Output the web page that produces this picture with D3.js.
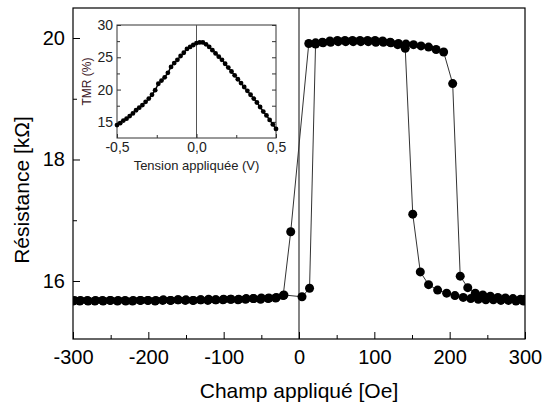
<!DOCTYPE html>
<html><head><meta charset="utf-8">
<script src="https://cdn.jsdelivr.net/npm/d3@7"></script>
<style>
html,body{margin:0;padding:0;background:#fff;}
svg{display:block;font-family:"Liberation Sans",Arial,sans-serif;}
</style></head>
<body>
<svg id="c" width="542" height="408"></svg>
<script>
// ---- Main chart data: sweep with increasing field ----
const upField = [-300,-290,-280,-270,-260,-250,-240,-230,-220,-210,-200,-190,-180,-170,-160,-150,-140,-130,-120,-110,-100,-90,-80,-70,-60,-50,-40,-30,-20,
  4,14,22,32,42,52,62,72,82,92,102,112,122,132,142,152,162,172,182,192,204,214,224,234,244,254,264,274,284,294,300];
const upRes = [15.67,15.68,15.67,15.68,15.67,15.68,15.68,15.67,15.68,15.68,15.68,15.68,15.69,15.68,15.69,15.69,15.68,15.69,15.70,15.69,15.70,15.70,15.70,15.71,15.71,15.72,15.72,15.73,15.77,
  15.74,15.88,19.90,19.92,19.93,19.94,19.94,19.94,19.94,19.94,19.93,19.93,19.92,19.91,19.90,19.89,19.87,19.85,19.81,19.77,19.25,16.08,15.89,15.80,15.77,15.75,15.73,15.72,15.71,15.70,15.70];
// ---- sweep with decreasing field ----
const downField = [298,288,278,268,258,248,238,228,218,207,196,184,172,161,151,141,131,121,111,101,91,81,71,61,51,41,31,22,13,
  -11,-21,-31,-41,-51,-61,-71,-81,-91,-101,-111,-121,-131,-141,-151,-161,-171,-181,-191,-201,-211,-221,-231,-241,-251,-261,-271,-281,-291,-298];
const downRes = [15.67,15.67,15.68,15.68,15.69,15.69,15.70,15.71,15.73,15.76,15.80,15.85,15.94,16.15,17.10,19.83,19.89,19.93,19.95,19.96,19.96,19.96,19.96,19.96,19.96,19.95,19.93,19.92,19.91,
  16.81,15.76,15.72,15.71,15.70,15.71,15.70,15.69,15.70,15.69,15.69,15.68,15.69,15.68,15.68,15.69,15.68,15.68,15.67,15.68,15.68,15.67,15.68,15.67,15.68,15.68,15.67,15.68,15.67,15.68];
const xTicks = [-300,-200,-100,0,100,200,300];
const xMinor = [-250,-150,-50,50,150,250];
const yTicks = [16,18,20];
const yMinor = [17,19];

// ---- Inset data ----
const insetV = [-0.50,-0.48,-0.46,-0.44,-0.42,-0.40,-0.38,-0.36,-0.34,-0.32,-0.30,-0.28,-0.26,-0.24,-0.22,-0.20,-0.18,-0.16,-0.14,-0.12,-0.10,-0.08,-0.06,-0.04,-0.02,
  0.00,0.02,0.04,0.06,0.08,0.10,0.12,0.14,0.16,0.18,0.20,0.22,0.24,0.26,0.28,0.30,0.32,0.34,0.36,0.38,0.40,0.42,0.44,0.46,0.48,0.50];
const insetTMR = [14.5,14.8,15.2,15.5,15.9,16.3,16.8,17.2,17.6,18.1,18.6,19.2,19.9,20.9,21.4,21.9,22.6,23.5,24.1,24.6,25.2,25.7,26.3,26.6,26.9,
  27.2,27.3,27.3,27.0,26.6,26.1,25.6,25.1,24.6,24.0,23.4,22.8,22.2,21.6,21.0,20.4,19.8,19.2,18.6,18.0,17.3,16.6,16.0,15.3,14.6,13.9];
const insetXTicks = [-0.5,0,0.5];
const insetXMinor = [-0.25,0.25];
const insetYTicks = [15,20,25,30];
const insetYMinor = [17.5,22.5,27.5];

const svg = d3.select("#c");
const FONT = "Liberation Sans, Arial, sans-serif";

// ---------- Main chart ----------
const x = d3.scaleLinear().domain([-300,300]).range([73,525]);
const y = d3.scaleLinear().domain([15.045,20.494]).range([339,8]);
const X0 = x.range()[0], X1 = x.range()[1], Y0 = y.range()[0], Y1 = y.range()[1];

svg.append("defs").append("clipPath").attr("id","plotclip")
  .append("rect").attr("x",X0).attr("y",Y1).attr("width",X1-X0).attr("height",Y0-Y1);

// zero line
svg.append("line").attr("x1",x(0)).attr("x2",x(0)).attr("y1",Y1).attr("y2",Y0)
  .attr("stroke","#333").attr("stroke-width",1.2);

// axes
const xAxis = d3.axisBottom(x).tickValues(xTicks).tickSizeInner(-7).tickSizeOuter(0).tickPadding(11).tickFormat(d=>String(d));
const gx = svg.append("g").attr("transform",`translate(0,${Y0})`).call(xAxis);
gx.select(".domain").remove();
gx.selectAll("text").attr("font-size",20).attr("font-family",FONT).attr("fill","#000");
gx.selectAll("line").attr("stroke","#000");
const gxm = svg.append("g").attr("transform",`translate(0,${Y0})`)
  .call(d3.axisBottom(x).tickValues(xMinor).tickSizeInner(-4).tickSizeOuter(0).tickFormat(""));
gxm.select(".domain").remove(); gxm.selectAll("line").attr("stroke","#000");

const yAxis = d3.axisLeft(y).tickValues(yTicks).tickSizeInner(-7).tickSizeOuter(0).tickPadding(8).tickFormat(d=>String(d));
const gy = svg.append("g").attr("transform",`translate(${X0},0)`).call(yAxis);
gy.select(".domain").remove();
gy.selectAll("text").attr("font-size",20).attr("font-family",FONT).attr("fill","#000");
gy.selectAll("line").attr("stroke","#000");
const gym = svg.append("g").attr("transform",`translate(${X0},0)`)
  .call(d3.axisLeft(y).tickValues(yMinor).tickSizeInner(-4).tickSizeOuter(0).tickFormat(""));
gym.select(".domain").remove(); gym.selectAll("line").attr("stroke","#000");

// axis titles
svg.append("text").attr("x",(X0+X1)/2).attr("y",398).attr("text-anchor","middle")
  .attr("font-size",21).attr("fill","#000").text("Champ appliqué [Oe]");
svg.append("text").attr("transform",`translate(29,190) rotate(-90)`).attr("text-anchor","middle")
  .attr("font-size",21).attr("fill","#000").text("Résistance [kΩ]");

// lines + dots (clipped to plot area)
const plot = svg.append("g").attr("clip-path","url(#plotclip)");
const line = d3.line().x(d=>x(d[0])).y(d=>y(d[1]));
const upPts = upField.map((f,i)=>[f,upRes[i]]);
const downPts = downField.map((f,i)=>[f,downRes[i]]);
[upPts,downPts].forEach(pts=>{
  plot.append("path").attr("d",line(pts)).attr("fill","none").attr("stroke","#333").attr("stroke-width",1);
});
[upPts,downPts].forEach(pts=>{
  plot.append("g").selectAll("circle").data(pts).join("circle")
    .attr("cx",d=>x(d[0])).attr("cy",d=>y(d[1])).attr("r",4.5).attr("fill","#000");
});

// frame
svg.append("rect").attr("x",X0).attr("y",Y1).attr("width",X1-X0).attr("height",Y0-Y1)
  .attr("fill","none").attr("stroke","#000").attr("stroke-width",1.2);

// ---------- Inset ----------
const ix = d3.scaleLinear().domain([-0.5,0.5]).range([117,276]);
const iy = d3.scaleLinear().domain([12.5,30]).range([138,25]);
const ins = svg.append("g");
ins.append("rect").attr("x",117).attr("y",25).attr("width",276-117).attr("height",138-25)
  .attr("fill","#fff").attr("stroke","#333").attr("stroke-width",1);
ins.append("line").attr("x1",ix(0)).attr("x2",ix(0)).attr("y1",iy(30)).attr("y2",iy(12.5))
  .attr("stroke","#555").attr("stroke-width",1);

const fmtC = d => d.toFixed(1).replace(".",",");
const gix = ins.append("g").attr("transform",`translate(0,138)`)
  .call(d3.axisBottom(ix).tickValues(insetXTicks).tickSizeInner(-4).tickSizeOuter(0).tickPadding(4).tickFormat(fmtC));
gix.select(".domain").remove();
gix.selectAll("text").attr("font-size",14).attr("font-family",FONT).attr("fill","#222");
gix.selectAll("line").attr("stroke","#333");
const gixm = ins.append("g").attr("transform",`translate(0,138)`)
  .call(d3.axisBottom(ix).tickValues(insetXMinor).tickSizeInner(-3).tickSizeOuter(0).tickFormat(""));
gixm.select(".domain").remove(); gixm.selectAll("line").attr("stroke","#333");

const giy = ins.append("g").attr("transform",`translate(117,0)`)
  .call(d3.axisLeft(iy).tickValues(insetYTicks).tickSizeInner(-4).tickSizeOuter(0).tickPadding(4).tickFormat(d=>String(d)));
giy.select(".domain").remove();
giy.selectAll("text").attr("font-size",14).attr("font-family",FONT).attr("fill","#222");
giy.selectAll("line").attr("stroke","#333");
const giym = ins.append("g").attr("transform",`translate(117,0)`)
  .call(d3.axisLeft(iy).tickValues(insetYMinor).tickSizeInner(-3).tickSizeOuter(0).tickFormat(""));
giym.select(".domain").remove(); giym.selectAll("line").attr("stroke","#333");
const giyr = ins.append("g").attr("transform",`translate(276,0)`)
  .call(d3.axisRight(iy).tickValues(insetYTicks.concat(insetYMinor)).tickSizeInner(-4).tickSizeOuter(0).tickFormat(""));
giyr.select(".domain").remove(); giyr.selectAll("line").attr("stroke","#333");

ins.append("text").attr("x",ix(0)).attr("y",170).attr("text-anchor","middle")
  .attr("font-size",13).attr("fill","#222").text("Tension appliquée (V)");
ins.append("text").attr("transform",`translate(91,${(25+138)/2}) rotate(-90)`).attr("text-anchor","middle")
  .attr("font-size",12).attr("fill","#3a1424").text("TMR (%)");

const iline = d3.line().x(d=>ix(d[0])).y(d=>iy(d[1]));
const ipts = insetV.map((v,i)=>[v,insetTMR[i]]);
ins.append("path").attr("d",iline(ipts)).attr("fill","none").attr("stroke","#000").attr("stroke-width",1.5);
ins.append("g").selectAll("circle").data(ipts).join("circle")
  .attr("cx",d=>ix(d[0])).attr("cy",d=>iy(d[1])).attr("r",2.4).attr("fill","#000");
</script>
</body></html>
